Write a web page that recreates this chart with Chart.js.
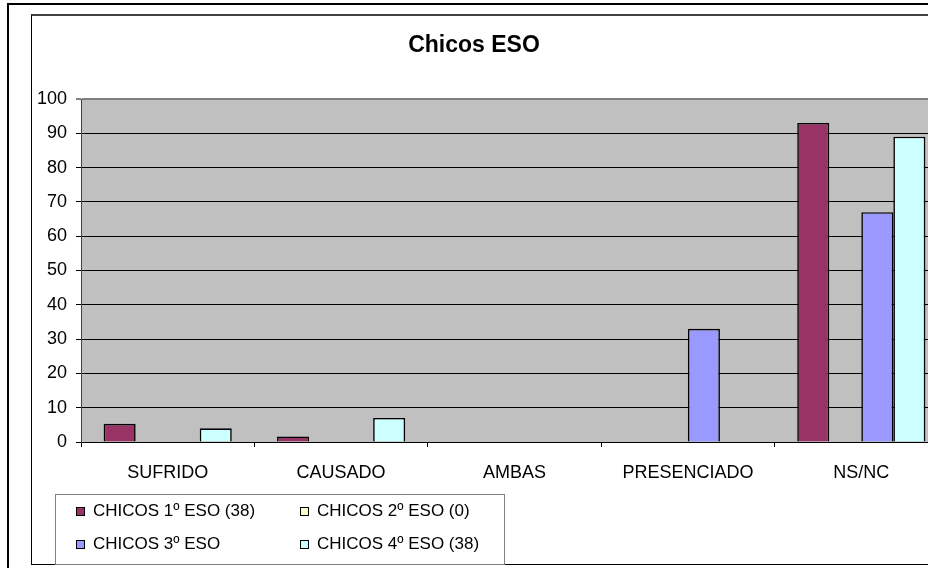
<!DOCTYPE html>
<html lang="es">
<head>
  <meta charset="UTF-8" />
  <title>Chicos ESO</title>
  <script src="https://cdn.jsdelivr.net/npm/chart.js"></script>
  <style>
    body {
      margin: 0;
      background: #fff;
      overflow: hidden;
      width: 928px;
      height: 568px;
      position: relative;
    }
    .marco {
      position: absolute;
      left: 7px;
      top: 3px;
      width: 2000px;
      height: 2000px;
      border-top: 2px solid #000;
      border-left: 2px solid #000;
    }
    .caja {
      position: absolute;
      left: 31px;
      top: 14px;
      width: 2000px;
      height: 548px;
      border-top: 2px solid #404040;
      border-left: 1px solid #000;
      border-bottom: 1px solid #000;
    }
    canvas {
      position: absolute;
      left: 0;
      top: 0;
    }
  </style>
</head>
<body>
  <div class="marco"></div>
  <div class="caja"></div>
  <canvas id="grafico" width="968" height="568"></canvas>

  <script>
    const titulo = 'Chicos ESO';
    const categorias = ['SUFRIDO', 'CAUSADO', 'AMBAS', 'PRESENCIADO', 'NS/NC'];
    const etiquetasSeries = ['CHICOS 1º ESO (38)', 'CHICOS 2º ESO (0)', 'CHICOS 3º ESO', 'CHICOS 4º ESO (38)'];
    const chicos1 = [5.3, 1.6, 0, 0, 93];
    const chicos2 = [0, 0, 0, 0, 0];
    const chicos3 = [0, 0, 0, 33, 67];
    const chicos4 = [4, 7, 0, 0, 89];
    const colores = ['#993366', '#FFFFCC', '#9999FF', '#CCFFFF'];
    const ticksY = [0, 10, 20, 30, 40, 50, 60, 70, 80, 90, 100];

    const fuente = "'Liberation Sans', Arial, sans-serif";

    // fondo gris del area de trazado
    const fondoPlot = {
      id: 'fondoPlot',
      beforeDraw(chart) {
        const { ctx, chartArea: a } = chart;
        ctx.save();
        ctx.fillStyle = '#C0C0C0';
        ctx.fillRect(a.left, a.top, a.right - a.left, a.bottom - a.top);
        ctx.restore();
      }
    };

    // titulo y leyenda en dos columnas, como en el original
    const extras = {
      id: 'extras',
      afterDraw(chart) {
        const ctx = chart.ctx;
        ctx.save();
        ctx.fillStyle = '#000';
        ctx.font = 'bold 23px ' + fuente;
        ctx.textAlign = 'center';
        ctx.textBaseline = 'middle';
        ctx.fillText(titulo, 474, 46);

        // caja de la leyenda
        ctx.fillStyle = '#fff';
        ctx.fillRect(55, 494, 449, 70);
        ctx.strokeStyle = '#808080';
        ctx.lineWidth = 1;
        ctx.strokeRect(55.5, 494.5, 449, 70);

        ctx.font = '17px ' + fuente;
        ctx.textAlign = 'left';
        chart.data.datasets.forEach((ds, i) => {
          const col = i % 2, fila = Math.floor(i / 2);
          const x = col === 0 ? 76 : 300;
          const y = fila === 0 ? 511 : 544;
          ctx.fillStyle = '#000';
          ctx.fillRect(x, y - 4, 9, 9);
          ctx.fillStyle = ds.backgroundColor;
          ctx.fillRect(x + 1, y - 3, 7, 7);
          ctx.fillStyle = '#000';
          ctx.fillText(ds.label, x + 17, y);
        });
        ctx.restore();
      }
    };

    const datasets = [chicos1, chicos2, chicos3, chicos4].map((d, i) => ({
      label: etiquetasSeries[i],
      data: d,
      backgroundColor: colores[i],
      borderColor: '#000',
      borderWidth: 1.6
    }));

    new Chart(document.getElementById('grafico'), {
      type: 'bar',
      data: { labels: categorias, datasets: datasets },
      options: {
        responsive: false,
        animation: false,
        devicePixelRatio: 1,
        layout: { padding: { left: 0, right: 20, top: 99, bottom: 0 } },
        datasets: {
          bar: { categoryPercentage: 0.739, barPercentage: 1 }
        },
        plugins: {
          legend: { display: false },
          title: { display: false },
          tooltip: { enabled: false }
        },
        scales: {
          x: {
            afterFit(scale) { scale.height = 126; },
            grid: {
              offset: true,
              drawOnChartArea: false,
              color: '#000',
              tickLength: 5
            },
            border: { color: '#000' },
            ticks: {
              color: '#000',
              padding: 15,
              font: { family: fuente, size: 18 }
            }
          },
          y: {
            min: 0,
            max: 100,
            afterFit(scale) { scale.width = 81; },
            afterBuildTicks(scale) {
              scale.ticks = ticksY.map(v => ({ value: v }));
            },
            grid: {
              color: ctx => (ctx.tick && ctx.tick.value === 100 ? '#808080' : '#000'),
              lineWidth: ctx => (ctx.tick && ctx.tick.value === 100 ? 2 : 1),
              tickLength: 5
            },
            border: { color: '#404040' },
            ticks: {
              color: '#000',
              padding: 9,
              font: { family: fuente, size: 18 }
            }
          }
        }
      },
      plugins: [fondoPlot, extras]
    });
  </script>
</body>
</html>
